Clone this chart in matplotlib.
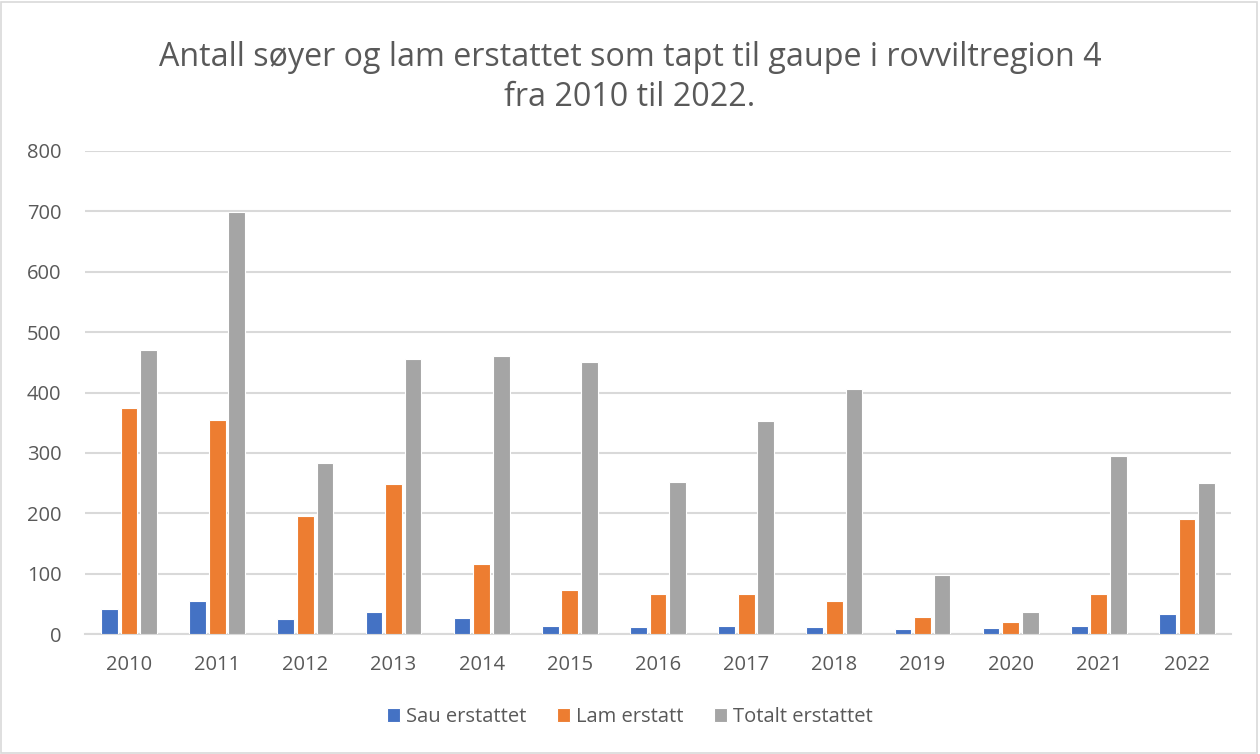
import numpy as np
import matplotlib
matplotlib.use('Agg')
from matplotlib import pyplot as plt
from matplotlib.patches import Rectangle

years = ['2010', '2011', '2012', '2013', '2014', '2015', '2016',
         '2017', '2018', '2019', '2020', '2021', '2022']
sau = [41, 55, 25, 37, 27, 14, 11, 14, 12, 8, 10, 14, 33]
lam = [374, 355, 195, 248, 116, 73, 67, 66, 55, 28, 20, 67, 190]
totalt = [471, 699, 284, 456, 461, 450, 251, 353, 406, 97, 37, 294, 250]

series_names = ['Sau erstattet', 'Lam erstatt', 'Totalt erstattet']
colors = ['#4472C4', '#ED7D31', '#A5A5A5']
text_color = '#595959'
grid_color = '#D9D9D9'

plt.rcParams['font.family'] = ['Open Sans', 'DejaVu Sans']

fig = plt.figure(figsize=(12.6, 7.54), dpi=100)
ax = fig.add_axes([85 / 1260, 120 / 754, (1231 - 85) / 1260, (634 - 151) / 754])

x = np.arange(len(years))
width = 0.19
offset = 0.222
for i, vals in enumerate([sau, lam, totalt]):
    ax.bar(x + (i - 1) * offset, vals, width, color=colors[i], label=series_names[i],
           edgecolor='white', linewidth=0.8, zorder=3)

ax.set_xlim(-0.5, len(years) - 0.5)
ax.set_ylim(0, 800)
ax.set_yticks(range(0, 801, 100))
ax.set_xticks(x)
ax.set_xticklabels(years)
ax.tick_params(axis='both', length=0, labelsize=14.5, colors=text_color)
ax.tick_params(axis='y', pad=17)
ax.tick_params(axis='x', pad=15)
ax.yaxis.grid(True, color=grid_color, linewidth=1.5, zorder=0)
for s in ['top', 'right', 'left']:
    ax.spines[s].set_visible(False)
ax.spines['bottom'].set_color(grid_color)
ax.spines['bottom'].set_linewidth(1.5)

# two-line title, centred over the figure
fig.text(0.5, 1 - 77 / 754, 'Antall søyer og lam erstattet som tapt til gaupe i rovviltregion 4\nfra 2010 til 2022.',
         ha='center', va='center', fontsize=23.2, color=text_color, linespacing=1.28)

fig.legend(loc='center', bbox_to_anchor=(0.5, 1 - 717 / 754), ncol=3, frameon=False,
           fontsize=14.5, handlelength=0.65, handleheight=0.65, handletextpad=0.3,
           columnspacing=1.5, labelcolor=text_color)

# light chart-area border
fig.patches.append(Rectangle((0.001, 0.001), 0.997, 0.997, transform=fig.transFigure,
                             fill=False, edgecolor=grid_color, linewidth=1.2))

plt.savefig('out.png', dpi=100)
